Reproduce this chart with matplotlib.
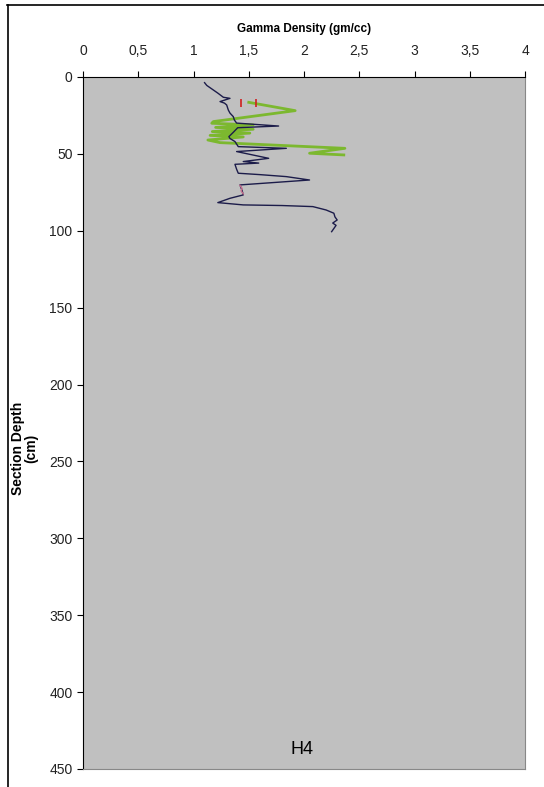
import numpy as np
import matplotlib.pyplot as plt
from matplotlib.lines import Line2D

# navy density trace (gm/cc vs depth cm)
navy_x = [1.10, 1.12, 1.18, 1.22, 1.27, 1.33, 1.24, 1.28, 1.30, 1.315, 1.33, 1.36, 1.37,
          1.39, 1.77, 1.40, 1.36, 1.32, 1.33, 1.375, 1.405, 1.84, 1.39, 1.68, 1.45, 1.59,
          1.375, 1.39, 1.405, 1.60, 1.84, 2.05, 1.42, 1.43, 1.44, 1.45, 1.33, 1.22, 1.45,
          1.80, 2.08, 2.20, 2.27, 2.28, 2.30, 2.26, 2.29, 2.25]
navy_y = [3.7, 5.5, 8.5, 10.5, 13.2, 13.9, 16.0, 17.0, 18.2, 21.5, 23.5, 25.8, 28.0,
          30.0, 31.9, 33.0, 36.0, 38.8, 40.0, 42.0, 45.3, 46.4, 48.5, 52.9, 55.0, 56.0,
          56.8, 60.0, 62.6, 63.5, 64.8, 67.0, 70.2, 72.0, 74.0, 76.7, 78.9, 81.7, 83.2,
          83.6, 84.3, 86.5, 88.6, 91.0, 93.0, 95.0, 96.5, 100.6]

# green trace
green_x = [1.50, 1.92, 1.18, 1.165, 1.54, 1.20, 1.54, 1.17, 1.51, 1.15, 1.45, 1.13, 1.24,
           2.37, 2.05, 2.36]
green_y = [16.5, 21.9, 29.0, 30.1, 31.2, 32.8, 34.0, 35.5, 36.5, 38.0, 39.0, 41.0, 42.7,
           46.4, 49.6, 50.7]

# red point markers
red_x = [1.43, 1.565]
red_y = [17.0, 17.0]

# pink segment
pink_x = [1.42, 1.44, 1.43, 1.45]
pink_y = [70.5, 72.5, 74.0, 76.0]

xticks = [0, 0.5, 1, 1.5, 2, 2.5, 3, 3.5, 4]
xlabels = ['0', '0,5', '1', '1,5', '2', '2,5', '3', '3,5', '4']
yticks = [0, 50, 100, 150, 200, 250, 300, 350, 400, 450]

plt.rcParams['font.family'] = 'Liberation Sans'

fig = plt.figure(figsize=(5.44, 7.87), dpi=100)
ax = fig.add_axes([0.1526, 0.0229, 0.8125, 0.8793])
ax.set_facecolor('#c0c0c0')

ax.plot(green_x, green_y, color='#7cb82f', linewidth=2)
ax.plot(navy_x, navy_y, color='#1c1c4a', linewidth=1)
ax.plot(pink_x, pink_y, color='#c87090', linewidth=1)
ax.plot(red_x, red_y, linestyle='none', marker='|', markersize=6, color='#d02020', markeredgewidth=1.2)

ax.set_xlim(0, 4)
ax.set_ylim(450, 0)
ax.xaxis.tick_top()
ax.xaxis.set_label_position('top')
ax.set_xticks(xticks)
ax.set_xticklabels(xlabels)
ax.set_yticks(yticks)
ax.tick_params(axis='both', direction='out', length=4, labelsize=10, labelcolor='#222222')
ax.tick_params(axis='x', pad=10)

ax.spines['left'].set_color('black')
ax.spines['top'].set_color('black')
ax.spines['right'].set_color('#888888')
ax.spines['bottom'].set_color('#888888')

ax.set_xlabel('Gamma Density (gm/cc)', fontsize=8.5, fontweight='bold', labelpad=8)
fig.text(0.045, 0.43, 'Section Depth\n(cm)', rotation=90, fontsize=10, fontweight='bold',
         ha='center', va='center', linespacing=0.95)
ax.text(0.495, 0.016, 'H4', transform=ax.transAxes, fontsize=13, ha='center', va='bottom')

# outer frame (top and left)
fig.add_artist(Line2D([0.013, 1.0], [0.994, 0.994], color='black', linewidth=1.2))
fig.add_artist(Line2D([0.014, 0.014], [0.0, 0.994], color='black', linewidth=1.2))

fig.savefig('out.png', dpi=100)
